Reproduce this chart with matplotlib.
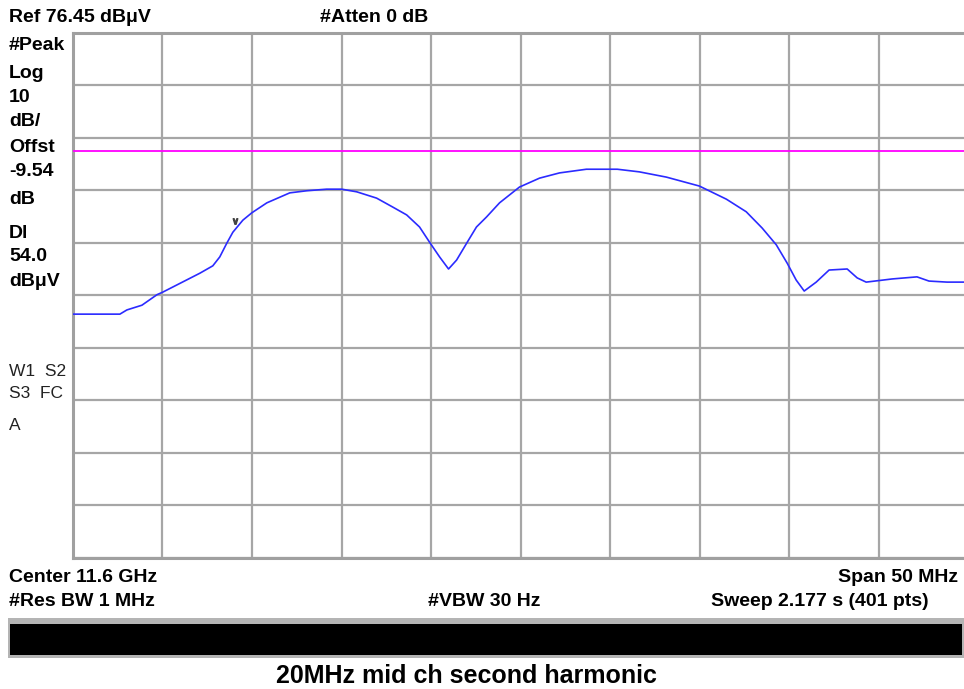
import numpy as np
import matplotlib
matplotlib.use('Agg')
import matplotlib.pyplot as plt
from matplotlib.patches import Rectangle

# spectrum analyser screen: 11.6 GHz centre, 50 MHz span, ref 76.45 dBuV, 10 dB/div
ref_level = 76.45
db_per_div = 10
display_line = 54.0

# trace (offset from centre in MHz, level in dBuV)
freq_mhz = [-25.0, -22.38, -21.99, -21.15, -20.31, -19.98, -17.91, -17.19, -16.80,
            -16.41, -16.07, -15.51, -15.01, -14.17, -12.89, -11.94, -10.83, -9.99,
            -9.15, -8.04, -7.14, -6.36, -5.64, -5.08, -4.52, -4.02, -3.57, -3.01,
            -2.46, -1.90, -1.17, -0.06, 1.06, 2.18, 3.68, 5.41, 6.64, 8.15, 9.99,
            11.50, 12.61, 13.50, 14.29, 14.90, 15.40, 15.85, 16.52, 17.24, 18.25,
            18.81, 19.31, 20.76, 22.15, 22.82, 23.83, 25.0]
level_dbuv = [22.9, 22.9, 23.7, 24.6, 26.6, 27.1, 30.7, 32.1, 33.8,
              36.4, 38.5, 40.8, 42.2, 44.1, 46.0, 46.4, 46.7, 46.7,
              46.2, 45.0, 43.3, 41.8, 39.5, 36.6, 33.8, 31.5, 33.2, 36.4,
              39.5, 41.4, 44.1, 47.1, 48.8, 49.8, 50.5, 50.5, 50.0, 49.0, 47.3,
              44.8, 42.4, 39.3, 36.1, 32.6, 29.4, 27.3, 29.0, 31.3, 31.5,
              29.8, 29.0, 29.6, 30.0, 29.2, 29.0, 29.0]

# marker tick above the trace
marker_f = [-15.96]
marker_db = [40.7]

W, H = 964, 689
fig = plt.figure(figsize=(W / 100, H / 100), dpi=100)
fig.patch.set_facecolor('white')

# plot area runs past the right edge of the picture, like the screenshot
ax = fig.add_axes([73 / W, 1 - 558 / H, 895 / W, 525 / H])
ax.set_xlim(-25, 25)
ax.set_ylim(ref_level - 10 * db_per_div, ref_level)
ax.set_xticks(np.linspace(-25, 25, 11))
ax.set_yticks(np.linspace(ref_level - 10 * db_per_div, ref_level, 11))
ax.grid(True, color='#a6a6a6', linewidth=1.6)
ax.tick_params(length=0, labelbottom=False, labelleft=False)
for side in ['top', 'bottom', 'left']:
    ax.spines[side].set_color('#a0a0a0')
    ax.spines[side].set_linewidth(2.2)
ax.spines['right'].set_visible(False)

ax.axhline(display_line, color='#ff00ff', linewidth=1.3, zorder=3)
ax.plot(freq_mhz, level_dbuv, color='#2b2bff', linewidth=1.2, zorder=4)
ax.plot(marker_f, marker_db, marker=r'$\vee$', color='#444444', markersize=4,
        linestyle='none', zorder=5)

bold = dict(family=['Liberation Sans', 'DejaVu Sans'],
            fontweight='bold', fontsize=14, va='center')
thin = dict(family=['Liberation Sans', 'DejaVu Sans'], fontsize=12.5,
            va='center', color='#222222')


def put(x, y, s, **kw):
    fig.text(x / W, 1 - y / H, s, **kw)


put(9, 18, 'Ref 76.45 dBμV', **bold)
put(320, 18, '#Atten 0 dB', **bold)

left_labels = ['#Peak', 'Log', '10', 'dB/', 'Offst', '-9.54', 'dB', 'Dl', '54.0', 'dBμV']
left_y = [46, 73, 97, 121, 147, 172, 199, 233, 256, 281]
for s, y in zip(left_labels, left_y):
    put(9, y, s, **bold)

put(9, 371, 'W1  S2', **thin)
put(9, 394, 'S3  FC', **thin)
put(9, 425, 'A', **thin)

put(9, 577, 'Center 11.6 GHz', **bold)
put(958, 577, 'Span 50 MHz', ha='right', **bold)
put(9, 601, '#Res BW 1 MHz', **bold)
put(428, 601, '#VBW 30 Hz', **bold)
put(929, 601, 'Sweep 2.177 s (401 pts)', ha='right', **bold)

# black status bar with grey frame
fig.patches.append(Rectangle((8 / W, 1 - 658 / H), 956 / W, 40 / H,
                             transform=fig.transFigure, facecolor='#b4b4b4',
                             edgecolor='none'))
fig.patches.append(Rectangle((10 / W, 1 - 655 / H), 952 / W, 31 / H,
                             transform=fig.transFigure, facecolor='black',
                             edgecolor='none'))

put(466, 676, '20MHz mid ch second harmonic', ha='center',
    family=['Liberation Sans', 'DejaVu Sans'], fontweight='bold', fontsize=18,
    va='center')

fig.savefig('out.png', dpi=100)
